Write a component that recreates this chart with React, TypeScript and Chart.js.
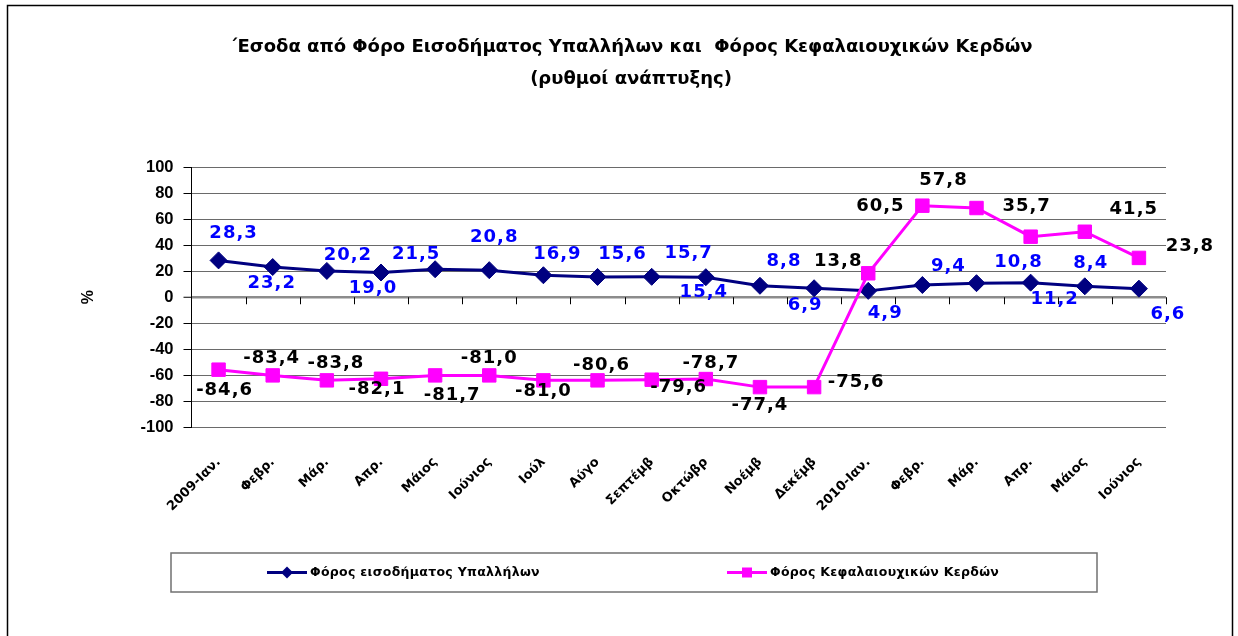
import { useEffect, useRef } from 'react';
import { Chart, registerables } from 'chart.js';

Chart.register(...registerables);

// ---------- data ----------
const categories = [
  '2009-Ιαν.', 'Φεβρ.', 'Μάρ.', 'Απρ.', 'Μάιος', 'Ιούνιος', 'Ιούλ', 'Αύγο', 'Σεπτέμβ',
  'Οκτώβρ', 'Νοέμβ', 'Δεκέμβ', '2010-Ιαν.', 'Φεβρ.', 'Μάρ.', 'Απρ.', 'Μάιος', 'Ιούνιος',
];
const incomeTaxValues = [28.3, 23.2, 20.2, 19.0, 21.5, 20.8, 16.9, 15.6, 15.7, 15.4, 8.8, 6.9, 4.9, 9.4, 10.8, 11.2, 8.4, 6.6];
// plotted positions of the capital-gains series as drawn in the picture
const capitalGainsValues = [-55.6, -60, -63.8, -62.6, -60, -60, -63.8, -63.8, -63.3, -62.8, -69, -69, 18.4, 70.3, 68.5, 46.5, 50.3, 30.2];
// numbers printed as data labels for the capital-gains series
const capitalGainsLabelValues = [-84.6, -83.4, -83.8, -82.1, -81.7, -81.0, -81.0, -80.6, -79.6, -78.7, -77.4, -75.6, 13.8, 60.5, 57.8, 35.7, 41.5, 23.8];
const seriesNames = ['Φόρος εισοδήματος Υπαλλήλων', 'Φόρος Κεφαλαιουχικών Κερδών'];
const titleLines = [
  '΄Εσοδα από Φόρο Εισοδήματος Υπαλλήλων και  Φόρος Κεφαλαιουχικών Κερδών',
  '(ρυθμοί ανάπτυξης)',
];
const yAxisTitle = '%';
const yMin = -100;
const yMax = 100;
const yStep = 20;

// ---------- label placement (pixel nudges relative to each point) ----------
const incomeLabelOffsets: [number, number][] = [
  [15, -27], [-1, 16], [21, -16], [-8, 16], [-19, -15], [5, -33], [14, -21], [25, -23], [37, -23],
  [-2, 15], [24, -24], [-9, 17], [17, 22], [26, -19], [42, -21], [24, 17], [6, -23], [29, 26],
];
const capitalLabelOffsets: [number, number][] = [
  [6, 21], [-1, -17], [9, -17], [-4, 11], [17, 20], [0, -17], [0, 11], [4, -15], [27, 8],
  [5, -16], [0, 18], [42, -5], [-30, -12], [-42, 1], [-33, -28], [-4, -30], [49, -22], [51, -12],
];

const NAVY = '#000080';
const MAGENTA = '#FF00FF';
const LABEL_FONT = 'bold 18px "DejaVu Sans"';
const fmt = (v: number) => v.toFixed(1).replace('.', ',');

const decorPlugin = {
  id: 'decor',
  beforeDraw(chart: any) {
    const { ctx, width, height } = chart;
    ctx.save();
    ctx.fillStyle = '#ffffff';
    ctx.fillRect(0, 0, width, height);
    // title
    ctx.fillStyle = '#000';
    ctx.font = 'bold 18px "DejaVu Sans"';
    ctx.textAlign = 'center';
    ctx.textBaseline = 'middle';
    ctx.fillText(titleLines[0], 631, 47);
    ctx.fillText(titleLines[1], 631, 79);
    ctx.restore();
  },
  beforeDatasetsDraw(chart: any) {
    const { ctx } = chart;
    const xs = chart.scales.x;
    const ys = chart.scales.y;
    const y0 = ys.getPixelForValue(0);
    ctx.save();
    ctx.strokeStyle = '#000';
    ctx.lineWidth = 1;
    for (let i = 1; i <= categories.length; i++) {
      const x = Math.round(xs.getPixelForValue(i - 0.5)) + 0.5;
      ctx.beginPath();
      ctx.moveTo(x, y0);
      ctx.lineTo(x, y0 + 7);
      ctx.stroke();
    }
    ctx.restore();
  },
  afterDatasetsDraw(chart: any) {
    const { ctx } = chart;
    ctx.save();
    ctx.font = LABEL_FONT;
    (ctx as any).letterSpacing = '1px';
    ctx.textAlign = 'center';
    ctx.textBaseline = 'middle';
    const groups = [
      { idx: 0, texts: incomeTaxValues.map(fmt), off: incomeLabelOffsets, color: '#0000FF' },
      { idx: 1, texts: capitalGainsLabelValues.map(fmt), off: capitalLabelOffsets, color: '#000000' },
    ];
    groups.forEach((g) => {
      const meta = chart.getDatasetMeta(g.idx);
      ctx.fillStyle = g.color;
      meta.data.forEach((pt: any, i: number) => {
        ctx.fillText(g.texts[i], pt.x + g.off[i][0], pt.y + g.off[i][1]);
      });
    });
    ctx.restore();
  },
  afterDraw(chart: any) {
    const { ctx } = chart;
    const ys = chart.scales.y;
    ctx.save();
    // y axis title
    ctx.translate(89, (ys.top + ys.bottom) / 2);
    ctx.rotate(-Math.PI / 2);
    ctx.font = 'bold 16px "Liberation Sans", Arial';
    ctx.fillStyle = '#000';
    ctx.textAlign = 'center';
    ctx.textBaseline = 'middle';
    ctx.fillText(yAxisTitle, 0, 0);
    ctx.restore();

    // legend
    ctx.save();
    ctx.strokeStyle = '#707070';
    ctx.lineWidth = 1.5;
    ctx.strokeRect(171, 553, 926, 39);
    const items = [
      { x: 267, ds: chart.data.datasets[0], shape: 'diamond' },
      { x: 727, ds: chart.data.datasets[1], shape: 'square' },
    ];
    const ly = 572.5;
    items.forEach((it) => {
      ctx.strokeStyle = it.ds.borderColor;
      ctx.fillStyle = it.ds.backgroundColor;
      ctx.lineWidth = 3;
      ctx.beginPath();
      ctx.moveTo(it.x, ly);
      ctx.lineTo(it.x + 40, ly);
      ctx.stroke();
      const cx = it.x + 20;
      ctx.beginPath();
      if (it.shape === 'diamond') {
        ctx.moveTo(cx - 6, ly);
        ctx.lineTo(cx, ly - 6);
        ctx.lineTo(cx + 6, ly);
        ctx.lineTo(cx, ly + 6);
        ctx.closePath();
      } else {
        ctx.rect(cx - 5, ly - 5, 10, 10);
      }
      ctx.fill();
      ctx.font = 'bold 12.5px "DejaVu Sans"';
      ctx.fillStyle = '#000';
      ctx.textAlign = 'left';
      ctx.textBaseline = 'middle';
      (ctx as any).letterSpacing = '0.3px';
      ctx.fillText(it.ds.label, it.x + 43, ly);
      (ctx as any).letterSpacing = '0px';
    });
    ctx.restore();

    // outer frame
    ctx.save();
    ctx.strokeStyle = '#000';
    ctx.lineWidth = 1.5;
    ctx.strokeRect(7.5, 5.5, 1225, 640);
    ctx.restore();
  },
};

export default function App() {
  const ref = useRef<HTMLCanvasElement | null>(null);

  useEffect(() => {
    document.body.style.margin = '0';
    const canvas = ref.current;
    if (!canvas) return;
    const chart = new Chart(canvas, {
      type: 'line',
      data: {
        labels: categories,
        datasets: [
          {
            label: seriesNames[0],
            data: incomeTaxValues,
            borderColor: NAVY,
            backgroundColor: NAVY,
            borderWidth: 3,
            pointStyle: 'rectRot',
            pointRadius: 8.5,
            pointHoverRadius: 8.5,
            pointBorderWidth: 1,
            pointBackgroundColor: NAVY,
            pointBorderColor: NAVY,
            tension: 0,
            order: 1,
          },
          {
            label: seriesNames[1],
            data: capitalGainsValues,
            borderColor: MAGENTA,
            backgroundColor: MAGENTA,
            borderWidth: 3,
            pointStyle: 'rect',
            pointRadius: 9.5,
            pointHoverRadius: 9.5,
            pointBorderWidth: 1,
            pointBackgroundColor: MAGENTA,
            pointBorderColor: MAGENTA,
            tension: 0,
            order: 0,
          },
        ],
      },
      options: {
        responsive: false,
        animation: false,
        layout: { padding: { left: 0, right: 72, top: 167, bottom: 0 } },
        plugins: {
          legend: { display: false },
          tooltip: { enabled: false },
          title: { display: false },
        },
        scales: {
          x: {
            type: 'category',
            offset: true,
            grid: { display: false, offset: true },
            border: { display: false },
            ticks: {
              autoSkip: false,
              maxRotation: 45,
              minRotation: 45,
              padding: 19,
              color: '#000',
              font: { family: '"DejaVu Sans"', size: 13, weight: 'bold' },
            },
            afterFit: (scale: any) => {
              scale.height = 208.5;
            },
          },
          y: {
            min: yMin,
            max: yMax,
            ticks: {
              stepSize: yStep,
              padding: 10,
              color: '#000',
              font: { family: '"Liberation Sans", Arial', size: 16.5, weight: 'bold' },
            },
            grid: {
              color: (c: any) => (c.tick && c.tick.value === 0 ? '#8c8c8c' : '#6a6a6a'),
              lineWidth: (c: any) => (c.tick && c.tick.value === 0 ? 2.5 : 1),
              tickColor: '#000',
              tickWidth: 1,
              tickLength: 8,
            },
            border: { display: true, color: '#000', width: 1 },
            afterFit: (scale: any) => {
              scale.width = 191.5;
            },
          },
        },
      },
      plugins: [decorPlugin],
    });
    return () => chart.destroy();
  }, []);

  return (
    <div style={{ width: 1238, height: 636 }}>
      <canvas ref={ref} width={1238} height={636} style={{ display: 'block' }} />
    </div>
  );
}
